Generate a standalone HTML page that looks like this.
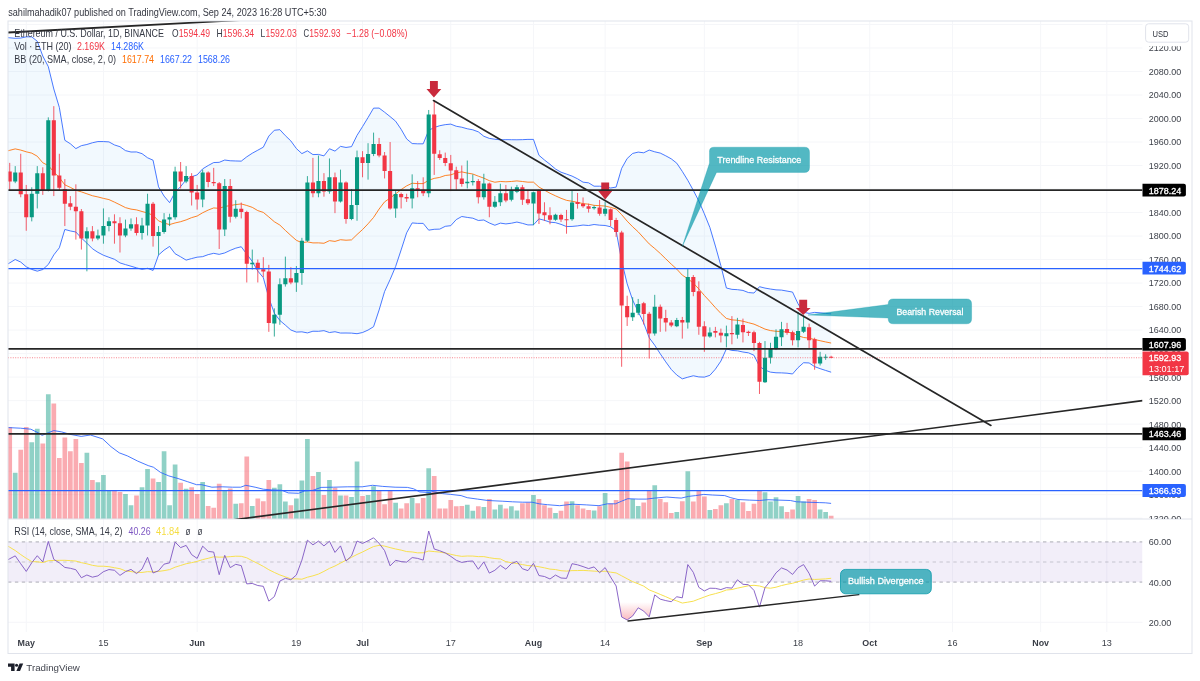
<!DOCTYPE html>
<html lang="en"><head><meta charset="utf-8"><title>ETHUSD chart</title>
<style>html,body{margin:0;padding:0;background:#fff}svg{display:block}</style></head>
<body>
<svg width="1200" height="681" viewBox="0 0 1200 681" font-family='"Liberation Sans", Arial, sans-serif'>
<defs>
<clipPath id="cm"><rect x="8.0" y="21.0" width="1134.5" height="498.0"/></clipPath>
<clipPath id="cr"><rect x="8.0" y="519.0" width="1134.5" height="113.0"/></clipPath>
<clipPath id="cax"><rect x="1142.5" y="46.2" width="49.5" height="472.8"/></clipPath>
<linearGradient id="os" gradientUnits="userSpaceOnUse" x1="0" y1="602" x2="0" y2="623"><stop offset="0" stop-color="#f23645" stop-opacity="0"/><stop offset="1" stop-color="#f23645" stop-opacity="0.4"/></linearGradient>
</defs>
<rect width="1200" height="681" fill="#fff"/>
<path d="M26.25 21.0V632.0M103.43 21.0V632.0M197.15 21.0V632.0M296.39 21.0V632.0M362.54 21.0V632.0M450.75 21.0V632.0M533.45 21.0V632.0M605.12 21.0V632.0M704.35 21.0V632.0M798.07 21.0V632.0M869.74 21.0V632.0M952.43 21.0V632.0M1040.64 21.0V632.0M1106.8 21.0V632.0M8.0 24.48H1142.5M8.0 47.99H1142.5M8.0 71.5H1142.5M8.0 95.01H1142.5M8.0 118.52H1142.5M8.0 142.02H1142.5M8.0 165.53H1142.5M8.0 189.04H1142.5M8.0 212.55H1142.5M8.0 236.06H1142.5M8.0 259.56H1142.5M8.0 283.07H1142.5M8.0 306.58H1142.5M8.0 330.09H1142.5M8.0 353.6H1142.5M8.0 377.1H1142.5M8.0 400.61H1142.5M8.0 424.12H1142.5M8.0 447.63H1142.5M8.0 471.14H1142.5M8.0 494.64H1142.5M8.0 518.15H1142.5M8.0 622.3H1142.5" stroke="#f5f6f9" stroke-width="1" fill="none"/>
<path d="M8.0 519.0H1192.0" stroke="#e0e3eb" stroke-width="1"/>
<g clip-path="url(#cm)">
<path d="M4.2 37.32L9.71 37.81L15.22 38.3L20.74 38.07L26.25 36.82L31.76 36.86L37.28 41.26L42.79 56.04L48.3 66.63L53.81 88.99L59.33 107.4L64.84 140.28L70.35 143.78L75.87 148.6L81.38 145.66L86.89 144.49L92.41 142.75L97.92 141.55L103.43 141.55L108.94 141.89L114.46 144.94L119.97 146.71L125.48 150.62L131 152.01L136.51 151.94L142.02 153.65L147.54 157.75L153.05 160.21L158.56 186.83L164.07 196.09L169.59 202.67L175.1 192.17L180.61 186.57L186.13 179.74L191.64 176.7L197.15 174.91L202.67 168.86L208.18 165.53L213.69 162.55L219.2 162.34L224.72 160.04L230.23 160.75L235.74 160.97L241.26 161.14L246.77 156.83L252.28 153.22L257.8 150.2L263.31 147.19L268.82 136.08L274.34 130.26L279.85 129.68L285.36 135.67L290.87 140.94L296.39 148.56L301.9 153.62L307.41 150.83L312.93 154.59L318.44 154.42L323.95 155.88L329.46 148.76L334.98 151.12L340.49 146.37L346 147.46L351.52 146.63L357.03 135.4L362.54 126.61L368.06 117.54L373.57 108.14L379.08 108.07L384.59 112.19L390.11 116.61L395.62 121.2L401.13 129.29L406.65 138.92L412.16 143.56L417.67 143.82L423.19 143.82L428.7 130.36L434.21 127.47L439.72 125.72L445.24 124.65L450.75 124.11L456.26 126.25L461.78 127.22L467.29 128.77L472.8 129.81L478.32 131.85L483.83 136.27L489.34 138.4L494.86 139.22L500.37 139.82L505.88 139.66L511.39 139.72L516.91 139.79L522.42 139.66L527.93 139.4L533.45 139.4L538.96 155.3L544.47 160L549.99 164.29L555.5 169.01L561.01 172.19L566.52 174.09L572.04 176.09L577.55 178.82L583.06 182.17L588.58 182.84L594.09 186.2L599.6 186.21L605.12 186.6L610.63 187.98L616.14 187.1L621.65 168.37L627.17 158.51L632.68 153.43L638.19 152.1L643.71 152.79L649.22 150.07L654.73 151.8L660.25 153.09L665.76 155.82L671.27 158.85L676.78 163.19L682.3 171.42L687.81 180.35L693.32 190.35L698.84 201.04L704.35 213.78L709.86 227.45L715.38 246.03L720.89 265.68L726.4 288.03L731.91 289.35L737.43 289.68L742.94 290.43L748.45 292.55L753.97 293.03L759.48 286.69L764.99 288.09L770.5 289.05L776.02 289.85L781.53 290.1L787.04 291.09L792.56 292.09L798.07 303.84L803.58 312.25L809.1 313.38L814.61 312.39L820.12 312.81L825.63 313.41L831.15 313.88L831.15 372.2L825.63 370.45L820.12 368.65L814.61 366.63L809.1 362.94L803.58 362.72L798.07 367.64L792.56 373.98L787.04 373.19L781.53 372.88L776.02 372.77L770.5 372.14L764.99 370.11L759.48 366.42L753.97 355.25L748.45 352.82L742.94 352.02L737.43 350.81L731.91 350.42L726.4 348.86L720.89 361.09L715.38 369.17L709.86 375.33L704.35 377.13L698.84 376.91L693.32 375.78L687.81 377.21L682.3 378.84L676.78 375.06L671.27 369.43L665.76 361.86L660.25 353.8L654.73 345.22L649.22 337.78L643.71 323.06L638.19 311.6L632.68 300.19L627.17 283.81L621.65 260.96L616.14 230.8L610.63 226.77L605.12 225.48L599.6 225.18L594.09 224.5L588.58 225.53L583.06 225.05L577.55 225.89L572.04 226.41L566.52 226.57L561.01 224.39L555.5 222.67L549.99 222.2L544.47 220.3L538.96 218.86L533.45 224.85L527.93 224.94L522.42 223.35L516.91 222.05L511.39 223.23L505.88 223.92L500.37 223.11L494.86 225.24L489.34 222.99L483.83 220L478.32 220.47L472.8 218.2L467.29 217.42L461.78 216.51L456.26 219.58L450.75 225.68L445.24 226.34L439.72 229.12L434.21 229.31L428.7 230.18L423.19 223.38L417.67 223.38L412.16 222.92L406.65 232.81L401.13 249.91L395.62 266.51L390.11 279.54L384.59 291.55L379.08 310.04L373.57 326.71L368.06 330.07L362.54 332.52L357.03 333.71L351.52 333.12L346 333L340.49 333.06L334.98 331.72L329.46 332.54L323.95 330.66L318.44 331.3L312.93 331.22L307.41 332.92L301.9 331.84L296.39 332.08L290.87 330L285.36 325.15L279.85 320.45L274.34 313.17L268.82 297.84L263.31 277.62L257.8 271.05L252.28 261.48L246.77 254.13L241.26 246.76L235.74 248.17L230.23 250.36L224.72 252.95L219.2 254.36L213.69 253.32L208.18 254.63L202.67 256.65L197.15 257.18L191.64 258.56L186.13 260.11L180.61 256.8L175.1 253.73L169.59 246.46L164.07 250.11L158.56 254.96L153.05 270.41L147.54 268.29L142.02 269.33L136.51 267.86L131 266.21L125.48 264.61L119.97 262.92L114.46 259.29L108.94 257.29L103.43 255.22L97.92 252.34L92.41 248.73L86.89 243.11L81.38 238.06L75.87 232.01L70.35 230.95L64.84 229.46L59.33 247.76L53.81 254.88L48.3 264.49L42.79 269.5L37.28 271.17L31.76 269.41L26.25 266.8L20.74 262.08L15.22 259.5L9.71 262.87L4.2 266.24Z" fill="#2196f3" fill-opacity="0.06"/>
<path d="M4.2 37.32L9.71 37.81L15.22 38.3L20.74 38.07L26.25 36.82L31.76 36.86L37.28 41.26L42.79 56.04L48.3 66.63L53.81 88.99L59.33 107.4L64.84 140.28L70.35 143.78L75.87 148.6L81.38 145.66L86.89 144.49L92.41 142.75L97.92 141.55L103.43 141.55L108.94 141.89L114.46 144.94L119.97 146.71L125.48 150.62L131 152.01L136.51 151.94L142.02 153.65L147.54 157.75L153.05 160.21L158.56 186.83L164.07 196.09L169.59 202.67L175.1 192.17L180.61 186.57L186.13 179.74L191.64 176.7L197.15 174.91L202.67 168.86L208.18 165.53L213.69 162.55L219.2 162.34L224.72 160.04L230.23 160.75L235.74 160.97L241.26 161.14L246.77 156.83L252.28 153.22L257.8 150.2L263.31 147.19L268.82 136.08L274.34 130.26L279.85 129.68L285.36 135.67L290.87 140.94L296.39 148.56L301.9 153.62L307.41 150.83L312.93 154.59L318.44 154.42L323.95 155.88L329.46 148.76L334.98 151.12L340.49 146.37L346 147.46L351.52 146.63L357.03 135.4L362.54 126.61L368.06 117.54L373.57 108.14L379.08 108.07L384.59 112.19L390.11 116.61L395.62 121.2L401.13 129.29L406.65 138.92L412.16 143.56L417.67 143.82L423.19 143.82L428.7 130.36L434.21 127.47L439.72 125.72L445.24 124.65L450.75 124.11L456.26 126.25L461.78 127.22L467.29 128.77L472.8 129.81L478.32 131.85L483.83 136.27L489.34 138.4L494.86 139.22L500.37 139.82L505.88 139.66L511.39 139.72L516.91 139.79L522.42 139.66L527.93 139.4L533.45 139.4L538.96 155.3L544.47 160L549.99 164.29L555.5 169.01L561.01 172.19L566.52 174.09L572.04 176.09L577.55 178.82L583.06 182.17L588.58 182.84L594.09 186.2L599.6 186.21L605.12 186.6L610.63 187.98L616.14 187.1L621.65 168.37L627.17 158.51L632.68 153.43L638.19 152.1L643.71 152.79L649.22 150.07L654.73 151.8L660.25 153.09L665.76 155.82L671.27 158.85L676.78 163.19L682.3 171.42L687.81 180.35L693.32 190.35L698.84 201.04L704.35 213.78L709.86 227.45L715.38 246.03L720.89 265.68L726.4 288.03L731.91 289.35L737.43 289.68L742.94 290.43L748.45 292.55L753.97 293.03L759.48 286.69L764.99 288.09L770.5 289.05L776.02 289.85L781.53 290.1L787.04 291.09L792.56 292.09L798.07 303.84L803.58 312.25L809.1 313.38L814.61 312.39L820.12 312.81L825.63 313.41L831.15 313.88" stroke="#2962ff" stroke-width="1" fill="none" stroke-linejoin="round" opacity="0.85"/>
<path d="M4.2 266.24L9.71 262.87L15.22 259.5L20.74 262.08L26.25 266.8L31.76 269.41L37.28 271.17L42.79 269.5L48.3 264.49L53.81 254.88L59.33 247.76L64.84 229.46L70.35 230.95L75.87 232.01L81.38 238.06L86.89 243.11L92.41 248.73L97.92 252.34L103.43 255.22L108.94 257.29L114.46 259.29L119.97 262.92L125.48 264.61L131 266.21L136.51 267.86L142.02 269.33L147.54 268.29L153.05 270.41L158.56 254.96L164.07 250.11L169.59 246.46L175.1 253.73L180.61 256.8L186.13 260.11L191.64 258.56L197.15 257.18L202.67 256.65L208.18 254.63L213.69 253.32L219.2 254.36L224.72 252.95L230.23 250.36L235.74 248.17L241.26 246.76L246.77 254.13L252.28 261.48L257.8 271.05L263.31 277.62L268.82 297.84L274.34 313.17L279.85 320.45L285.36 325.15L290.87 330L296.39 332.08L301.9 331.84L307.41 332.92L312.93 331.22L318.44 331.3L323.95 330.66L329.46 332.54L334.98 331.72L340.49 333.06L346 333L351.52 333.12L357.03 333.71L362.54 332.52L368.06 330.07L373.57 326.71L379.08 310.04L384.59 291.55L390.11 279.54L395.62 266.51L401.13 249.91L406.65 232.81L412.16 222.92L417.67 223.38L423.19 223.38L428.7 230.18L434.21 229.31L439.72 229.12L445.24 226.34L450.75 225.68L456.26 219.58L461.78 216.51L467.29 217.42L472.8 218.2L478.32 220.47L483.83 220L489.34 222.99L494.86 225.24L500.37 223.11L505.88 223.92L511.39 223.23L516.91 222.05L522.42 223.35L527.93 224.94L533.45 224.85L538.96 218.86L544.47 220.3L549.99 222.2L555.5 222.67L561.01 224.39L566.52 226.57L572.04 226.41L577.55 225.89L583.06 225.05L588.58 225.53L594.09 224.5L599.6 225.18L605.12 225.48L610.63 226.77L616.14 230.8L621.65 260.96L627.17 283.81L632.68 300.19L638.19 311.6L643.71 323.06L649.22 337.78L654.73 345.22L660.25 353.8L665.76 361.86L671.27 369.43L676.78 375.06L682.3 378.84L687.81 377.21L693.32 375.78L698.84 376.91L704.35 377.13L709.86 375.33L715.38 369.17L720.89 361.09L726.4 348.86L731.91 350.42L737.43 350.81L742.94 352.02L748.45 352.82L753.97 355.25L759.48 366.42L764.99 370.11L770.5 372.14L776.02 372.77L781.53 372.88L787.04 373.19L792.56 373.98L798.07 367.64L803.58 362.72L809.1 362.94L814.61 366.63L820.12 368.65L825.63 370.45L831.15 372.2" stroke="#2962ff" stroke-width="1" fill="none" stroke-linejoin="round" opacity="0.85"/>
<path d="M4.2 151.78L9.71 150.34L15.22 148.9L20.74 150.08L26.25 151.81L31.76 153.13L37.28 156.22L42.79 162.77L48.3 165.56L53.81 171.94L59.33 177.58L64.84 184.87L70.35 187.37L75.87 190.3L81.38 191.86L86.89 193.8L92.41 195.74L97.92 196.94L103.43 198.38L108.94 199.59L114.46 202.12L119.97 204.82L125.48 207.61L131 209.11L136.51 209.9L142.02 211.49L147.54 213.02L153.05 215.31L158.56 220.89L164.07 223.1L169.59 224.57L175.1 222.95L180.61 221.69L186.13 219.92L191.64 217.63L197.15 216.04L202.67 212.75L208.18 210.08L213.69 207.93L219.2 208.35L224.72 206.49L230.23 205.55L235.74 204.57L241.26 203.95L246.77 205.48L252.28 207.35L257.8 210.62L263.31 212.4L268.82 216.96L274.34 221.72L279.85 225.07L285.36 230.41L290.87 235.47L296.39 240.32L301.9 242.73L307.41 241.87L312.93 242.9L318.44 242.86L323.95 243.27L329.46 240.65L334.98 241.42L340.49 239.71L346 240.23L351.52 239.88L357.03 234.56L362.54 229.56L368.06 223.8L373.57 217.43L379.08 209.05L384.59 201.87L390.11 198.08L395.62 193.86L401.13 189.6L406.65 185.87L412.16 183.24L417.67 183.6L423.19 183.6L428.7 180.27L434.21 178.39L439.72 177.42L445.24 175.49L450.75 174.89L456.26 172.91L461.78 171.87L467.29 173.09L472.8 174L478.32 176.16L483.83 178.14L489.34 180.7L494.86 182.23L500.37 181.47L505.88 181.79L511.39 181.48L516.91 180.92L522.42 181.5L527.93 182.17L533.45 182.13L538.96 187.08L544.47 190.15L549.99 193.24L555.5 195.84L561.01 198.29L566.52 200.33L572.04 201.25L577.55 202.35L583.06 203.61L588.58 204.18L594.09 205.35L599.6 205.7L605.12 206.04L610.63 207.38L616.14 208.95L621.65 214.67L627.17 221.16L632.68 226.81L638.19 231.85L643.71 237.93L649.22 243.93L654.73 248.51L660.25 253.45L665.76 258.84L671.27 264.14L676.78 269.13L682.3 275.13L687.81 278.78L693.32 283.06L698.84 288.97L704.35 295.45L709.86 301.39L715.38 307.6L720.89 313.39L726.4 318.45L731.91 319.89L737.43 320.25L742.94 321.23L748.45 322.68L753.97 324.14L759.48 326.55L764.99 329.1L770.5 330.6L776.02 331.31L781.53 331.49L787.04 332.14L792.56 333.03L798.07 335.74L803.58 337.49L809.1 338.16L814.61 339.51L820.12 340.73L825.63 341.93L831.15 343.04" stroke="#ff6d00" stroke-width="1" fill="none" stroke-linejoin="round" opacity="0.85"/>
<path d="M12.87 472.8h4.7V518.6h-4.7zM29.41 442.2h4.7V518.6h-4.7zM34.93 428.8h4.7V518.6h-4.7zM45.95 394.3h4.7V518.6h-4.7zM84.54 452.8h4.7V518.6h-4.7zM95.57 482.2h4.7V518.6h-4.7zM101.08 475h4.7V518.6h-4.7zM106.59 490.9h4.7V518.6h-4.7zM123.13 494h4.7V518.6h-4.7zM128.65 505.3h4.7V518.6h-4.7zM139.67 487.2h4.7V518.6h-4.7zM145.19 468.9h4.7V518.6h-4.7zM156.21 482h4.7V518.6h-4.7zM161.72 451.2h4.7V518.6h-4.7zM167.24 505.3h4.7V518.6h-4.7zM172.75 464.6h4.7V518.6h-4.7zM183.78 488.8h4.7V518.6h-4.7zM200.32 482h4.7V518.6h-4.7zM222.37 489.9h4.7V518.6h-4.7zM233.39 503.8h4.7V518.6h-4.7zM249.93 505.9h4.7V518.6h-4.7zM271.99 487.8h4.7V518.6h-4.7zM277.5 484.3h4.7V518.6h-4.7zM283.01 501.6h4.7V518.6h-4.7zM294.04 498.5h4.7V518.6h-4.7zM299.55 480.6h4.7V518.6h-4.7zM305.06 438.9h4.7V518.6h-4.7zM316.09 472h4.7V518.6h-4.7zM327.11 480h4.7V518.6h-4.7zM338.14 495.4h4.7V518.6h-4.7zM349.17 497h4.7V518.6h-4.7zM354.68 461.5h4.7V518.6h-4.7zM365.71 495h4.7V518.6h-4.7zM371.22 486.2h4.7V518.6h-4.7zM393.27 502.8h4.7V518.6h-4.7zM409.81 498h4.7V518.6h-4.7zM426.35 468.3h4.7V518.6h-4.7zM464.94 504.7h4.7V518.6h-4.7zM470.45 510.8h4.7V518.6h-4.7zM481.48 506.9h4.7V518.6h-4.7zM492.5 509.4h4.7V518.6h-4.7zM498.02 504.7h4.7V518.6h-4.7zM509.04 506.3h4.7V518.6h-4.7zM514.56 510.4h4.7V518.6h-4.7zM531.1 495h4.7V518.6h-4.7zM553.15 512.9h4.7V518.6h-4.7zM569.69 501.2h4.7V518.6h-4.7zM591.74 510.4h4.7V518.6h-4.7zM602.76 492.9h4.7V518.6h-4.7zM630.33 499.1h4.7V518.6h-4.7zM635.84 505.9h4.7V518.6h-4.7zM652.38 485.3h4.7V518.6h-4.7zM674.43 512h4.7V518.6h-4.7zM685.46 471.3h4.7V518.6h-4.7zM707.51 510h4.7V518.6h-4.7zM724.05 503.2h4.7V518.6h-4.7zM735.08 500.1h4.7V518.6h-4.7zM762.64 492.3h4.7V518.6h-4.7zM768.15 501.6h4.7V518.6h-4.7zM773.67 497.3h4.7V518.6h-4.7zM779.18 506.3h4.7V518.6h-4.7zM795.72 496h4.7V518.6h-4.7zM801.23 501.6h4.7V518.6h-4.7zM817.77 509.4h4.7V518.6h-4.7zM823.28 512h4.7V518.6h-4.7z" fill="#089981" fill-opacity="0.45"/>
<path d="M7.36 427.1h4.7V518.6h-4.7zM18.39 449.8h4.7V518.6h-4.7zM23.9 427.1h4.7V518.6h-4.7zM40.44 443.6h4.7V518.6h-4.7zM51.46 403.5h4.7V518.6h-4.7zM56.98 458h4.7V518.6h-4.7zM62.49 437.4h4.7V518.6h-4.7zM68 451.2h4.7V518.6h-4.7zM73.52 438.9h4.7V518.6h-4.7zM79.03 463.1h4.7V518.6h-4.7zM90.06 480h4.7V518.6h-4.7zM112.11 490.9h4.7V518.6h-4.7zM117.62 491.9h4.7V518.6h-4.7zM134.16 495.4h4.7V518.6h-4.7zM150.7 478.5h4.7V518.6h-4.7zM178.26 482.7h4.7V518.6h-4.7zM189.29 487.2h4.7V518.6h-4.7zM194.8 494h4.7V518.6h-4.7zM205.83 505.9h4.7V518.6h-4.7zM211.34 507.7h4.7V518.6h-4.7zM216.85 483.7h4.7V518.6h-4.7zM227.88 488.4h4.7V518.6h-4.7zM238.91 503.2h4.7V518.6h-4.7zM244.42 456.5h4.7V518.6h-4.7zM255.45 498.5h4.7V518.6h-4.7zM260.96 501.2h4.7V518.6h-4.7zM266.47 480h4.7V518.6h-4.7zM288.52 505.3h4.7V518.6h-4.7zM310.58 476.1h4.7V518.6h-4.7zM321.6 495h4.7V518.6h-4.7zM332.63 487.8h4.7V518.6h-4.7zM343.65 495.4h4.7V518.6h-4.7zM360.19 496h4.7V518.6h-4.7zM376.73 490.9h4.7V518.6h-4.7zM382.24 504.2h4.7V518.6h-4.7zM387.76 490.9h4.7V518.6h-4.7zM398.78 508.4h4.7V518.6h-4.7zM404.3 503.2h4.7V518.6h-4.7zM415.32 503.2h4.7V518.6h-4.7zM420.84 498h4.7V518.6h-4.7zM431.86 476.1h4.7V518.6h-4.7zM437.37 508.4h4.7V518.6h-4.7zM442.89 508.4h4.7V518.6h-4.7zM448.4 500.1h4.7V518.6h-4.7zM453.91 506.3h4.7V518.6h-4.7zM459.43 505.9h4.7V518.6h-4.7zM475.97 506.3h4.7V518.6h-4.7zM486.99 499.1h4.7V518.6h-4.7zM503.53 508.4h4.7V518.6h-4.7zM520.07 503.2h4.7V518.6h-4.7zM525.58 502.6h4.7V518.6h-4.7zM536.61 499.1h4.7V518.6h-4.7zM542.12 505.3h4.7V518.6h-4.7zM547.63 507.7h4.7V518.6h-4.7zM558.66 510.8h4.7V518.6h-4.7zM564.17 501.6h4.7V518.6h-4.7zM575.2 505.3h4.7V518.6h-4.7zM580.71 508.4h4.7V518.6h-4.7zM586.23 510h4.7V518.6h-4.7zM597.25 506.3h4.7V518.6h-4.7zM608.28 503.6h4.7V518.6h-4.7zM613.79 500.1h4.7V518.6h-4.7zM619.3 452.8h4.7V518.6h-4.7zM624.82 461.5h4.7V518.6h-4.7zM641.36 502.6h4.7V518.6h-4.7zM646.87 490.3h4.7V518.6h-4.7zM657.89 499.1h4.7V518.6h-4.7zM663.41 502.2h4.7V518.6h-4.7zM668.92 512.9h4.7V518.6h-4.7zM679.95 501.2h4.7V518.6h-4.7zM690.97 501.6h4.7V518.6h-4.7zM696.49 490.9h4.7V518.6h-4.7zM702 496.6h4.7V518.6h-4.7zM713.02 509h4.7V518.6h-4.7zM718.54 505.3h4.7V518.6h-4.7zM729.56 499.1h4.7V518.6h-4.7zM740.59 502.2h4.7V518.6h-4.7zM746.1 511h4.7V518.6h-4.7zM751.62 503.8h4.7V518.6h-4.7zM757.13 490.9h4.7V518.6h-4.7zM784.69 511.9h4.7V518.6h-4.7zM790.21 509.6h4.7V518.6h-4.7zM806.75 499.1h4.7V518.6h-4.7zM812.26 500.1h4.7V518.6h-4.7zM828.8 515.8h4.7V518.6h-4.7z" fill="#f23645" fill-opacity="0.42"/>
<path d="M8.2 427.6L20.5 428.2L30.8 429.2L38 432.7L42.1 435.4L48.3 432.7L53.8 430.6L61.6 431.9L69.9 434.3L81.2 436.4L90.4 435L102.7 438.9L111 446.7L119.2 452.8L127.4 455.9L137.7 461.1L148.2 465.6L153.4 467.2L160.5 472.4L168.8 475.9L178 478.5L187.3 481.6L196.5 484.7L201.6 484.7L211.9 487.2L222.2 486.8L232.5 487.2L240.7 487.2L245.8 485.3L255.1 487.2L263.3 489.2L271.5 489.9L281.8 490.3L288.2 492.9L298.5 493.3L304.7 490.9L312.9 490.3L321.1 487.4L333.4 487.2L347.8 486.8L362.2 486.8L372.5 485.3L382.7 486.4L395.1 487.2L407.4 487.4L413.6 488.8L419.7 491.9L430 492.6L432.3 491.5L442.6 493.6L450.8 494.4L461.1 495.6L467.3 497.7L477.5 499.1L487.8 500.5L502.2 501.2L512.5 501.8L522.7 502.2L532 502.2L539.2 503.8L547.4 504.7L559.7 505.7L572.3 504.2L586.7 504.9L599 505.7L607.3 503.8L615.5 503.8L621.6 501.2L627.8 498.7L638.1 499.1L646.3 499.1L654.5 498.1L666.8 497L675.1 497.7L681.2 498.1L688.4 496.4L695.6 495.6L703.8 494.4L712.3 495L724.7 495.6L730.8 497.7L738 499.5L749.3 500.1L759.6 500.5L767.8 499.7L778.1 500.1L790.4 500.5L796.6 501.8L806.8 502.2L819.2 502.6L825.3 502.8L831.1 503.4" stroke="#2962ff" stroke-width="1" fill="none" stroke-linejoin="round" opacity="0.85"/>
<path d="M15.22 166.12V183.16M31.76 187.28V221.36M37.28 166.12V208.43M48.3 117.34V191.39M86.89 227.24V271.32M97.92 229.59V240.17M103.43 208.43V243.7M108.94 217.25V231.35M125.48 219.6V237.23M131 218.43V230.77M142.02 217.84V239.58M147.54 193.74V235.47M158.56 226.07V254.86M164.07 213.14V233.71M169.59 213.72V226.07M175.1 166.71V219.6M186.13 166.12V183.16M202.67 169.65V207.26M224.72 179.05V236.06M235.74 200.21V218.43M252.28 249.57V269.55M274.34 308.34V336.55M279.85 278.37V324.8M285.36 256.63V286.6M296.39 266.03V291.89M301.9 237.82V284.84M307.41 176.11V241.93M318.44 155.54V197.27M329.46 158.48V193.74M340.49 169.65V202.56M351.52 189.04V220.19M357.03 150.55V220.78M368.06 143.2V179.64M373.57 132.62V156.13M395.62 191.1V217.84M412.16 174.35V208.43M428.7 109.99V197.27M467.29 160.54V188.45M472.8 174.35V185.51M483.83 173.76V199.62M494.86 196.09V207.85M500.37 183.75V206.08M511.39 186.69V201.38M516.91 184.93V193.15M533.45 191.68V225.18M555.5 213.72V220.78M572.04 189.98V220.78M594.09 205.5V209.61M605.12 201.97V216.19M632.68 297.18V320.98M638.19 298.94V315.1M654.73 294.83V335.67M676.78 317.92V327.15M687.81 268.73V328.62M709.86 327.38V337.73M726.4 325.62V347.37M737.43 317.86V338.61M764.99 341.08V382.98M770.5 342.78V363.59M776.02 329.32V350.07M781.53 321.86V346.07M798.07 311.87V347.37M803.58 315.4V333.03M820.12 351.83V365.53M825.63 354.3V359.83" stroke="#089981" stroke-width="1" fill="none" opacity="0.8"/>
<path d="M13.17 172.58h4.1V181.4h-4.1zM29.71 193.74h4.1V217.25h-4.1zM35.23 173.17h4.1V193.74h-4.1zM46.25 120.28h4.1V190.22h-4.1zM84.84 231.35h4.1V238.41h-4.1zM95.87 235.47h4.1V238.41h-4.1zM101.38 226.07h4.1V235.47h-4.1zM106.89 221.36h4.1V226.07h-4.1zM123.43 228.42h4.1V235.47h-4.1zM128.95 224.3h4.1V228.42h-4.1zM139.97 225.48h4.1V233.12h-4.1zM145.49 203.73h4.1V225.48h-4.1zM156.51 231.94h4.1V236.06h-4.1zM162.02 219.6h4.1V231.94h-4.1zM167.54 217.25h4.1V219.6h-4.1zM173.05 171.41h4.1V217.25h-4.1zM184.08 176.11h4.1V181.4h-4.1zM200.62 172.58h4.1V199.62h-4.1zM222.67 186.1h4.1V229.59h-4.1zM233.69 208.73h4.1V216.66h-4.1zM250.23 262.8h4.1V264.27h-4.1zM272.29 314.81h4.1V323.62h-4.1zM277.8 284.25h4.1V314.81h-4.1zM283.31 278.37h4.1V284.25h-4.1zM294.34 273.08h4.1V282.48h-4.1zM299.85 240.76h4.1V273.08h-4.1zM305.36 182.58h4.1V240.76h-4.1zM316.39 181.11h4.1V193.15h-4.1zM327.41 177.29h4.1V191.39h-4.1zM338.44 182.58h4.1V201.38h-4.1zM349.47 204.91h4.1V219.01h-4.1zM354.98 157.3h4.1V204.91h-4.1zM366.01 154.07h4.1V162.89h-4.1zM371.52 144.08h4.1V154.07h-4.1zM393.57 194.04h4.1V208.43h-4.1zM410.11 188.16h4.1V198.44h-4.1zM426.65 114.52h4.1V193.15h-4.1zM465.24 181.81h4.1V183.34h-4.1zM470.75 181.05h4.1V182.34h-4.1zM481.78 183.57h4.1V197.27h-4.1zM492.81 201.79h4.1V206.79h-4.1zM498.32 193.15h4.1V202.32h-4.1zM509.34 191.04h4.1V199.79h-4.1zM514.86 187.28h4.1V191.68h-4.1zM531.4 192.33h4.1V203.44h-4.1zM553.45 214.78h4.1V219.78h-4.1zM569.99 202.38h4.1V219.37h-4.1zM592.04 206.91h4.1V208.2h-4.1zM603.07 208.67h4.1V213.72h-4.1zM630.63 312.75h4.1V317.16h-4.1zM636.14 303.94h4.1V312.75h-4.1zM652.68 306.87h4.1V333.44h-4.1zM674.73 319.92h4.1V326.15h-4.1zM685.76 276.9h4.1V322.45h-4.1zM707.81 332.44h4.1V336.55h-4.1zM724.35 333.14h4.1V336.14h-4.1zM735.38 324.39h4.1V334.79h-4.1zM762.94 357.83h4.1V382.22h-4.1zM768.46 348.54h4.1V357.83h-4.1zM773.97 336.79h4.1V348.54h-4.1zM779.48 329.32h4.1V337.32h-4.1zM796.02 331.09h4.1V340.31h-4.1zM801.53 326.8h4.1V331.85h-4.1zM818.07 356.83h4.1V363.59h-4.1zM823.59 356.83h4.1V357.83h-4.1z" fill="#089981"/>
<path d="M9.71 162.89V189.8M20.74 153.78V197.27M26.25 184.93V230.77M42.79 167.3V194.92M53.81 106.17V196.09M59.33 153.78V190.22M64.84 179.05V226.07M70.35 196.09V210.2M75.87 184.34V239.58M81.38 209.02V249.57M92.41 226.07V241.35M114.46 214.31V243.7M119.97 217.25V252.51M136.51 217.25V235.47M153.05 201.97V246.63M180.61 162.01V188.45M191.64 173.17V205.5M197.15 184.93V209.61M208.18 171.41V187.28M213.69 167.88V186.1M219.2 181.99V248.99M230.23 179.05V222.54M241.26 202.56V218.43M246.77 210.78V282.48M257.8 259.56V282.48M263.31 257.21V277.19M268.82 264.85V331.85M290.87 267.2V284.25M312.93 157.89V197.27M323.95 173.17V196.68M334.98 172.58V213.14M346 181.4V223.71M362.54 151.13V177.29M379.08 137.91V157.3M384.59 152.01V178.46M390.11 142.02V209.61M401.13 192.57V208.43M406.65 193.74V201.97M417.67 181.11V197.27M423.19 177.29V196.09M434.21 100.47V174.94M439.72 150.25V159.95M445.24 152.6V166.12M450.75 154.95V191.1M456.26 166.71V189.8M461.78 165.53V186.69M478.32 179.05V203.44M489.34 182.58V217.25M505.88 184.93V202.26M522.42 184.93V204.91M527.93 189.8V204.91M538.96 189.33V224.01M544.47 202.26V221.01M549.99 207.26V224.3M561.01 213.72V221.95M566.52 209.9V233.71M577.55 192.98V208.67M583.06 197.44V207.85M588.58 203.73V212.55M599.6 199.97V215.72M610.63 208.43V226.07M616.14 217.84V236.88M621.65 230.77V366.76M627.17 295.71V325.97M643.71 301.88V324.5M649.22 311.87V358.53M660.25 304.52V331.85M665.76 309.81V331.56M671.27 320.1V327.15M682.3 316.92V338.61M693.32 275.02V296.24M698.84 281.31V334.79M704.35 321.27V351.83M715.38 326.86V337.38M720.89 328.62V342.43M731.91 316.1V344.31M742.94 318.63V342.43M748.45 330.68V335.96M753.97 330.68V351.07M759.48 341.84V393.97M787.04 322.86V334.79M792.56 330.68V345.37M809.1 323.62V348.07M814.61 337.73V369.76M831.15 355.75V358.28" stroke="#f23645" stroke-width="1" fill="none" opacity="0.8"/>
<path d="M7.66 171.41h4.1V181.4h-4.1zM18.69 172.58h4.1V194.33h-4.1zM24.2 194.33h4.1V217.25h-4.1zM40.74 173.17h4.1V190.22h-4.1zM51.77 120.28h4.1V175.52h-4.1zM57.28 175.52h4.1V187.86h-4.1zM62.79 189.04h4.1V203.73h-4.1zM68.3 203.14h4.1V206.67h-4.1zM73.82 206.67h4.1V211.37h-4.1zM79.33 211.37h4.1V238.41h-4.1zM90.36 231.35h4.1V238.41h-4.1zM112.41 221.36h4.1V223.13h-4.1zM117.92 223.13h4.1V235.47h-4.1zM134.46 224.3h4.1V233.12h-4.1zM151 203.73h4.1V236.06h-4.1zM178.56 171.41h4.1V181.4h-4.1zM189.59 176.11h4.1V192.57h-4.1zM195.1 192.57h4.1V199.62h-4.1zM206.13 172.58h4.1V181.99h-4.1zM211.64 181.99h4.1V183.16h-4.1zM217.15 183.16h4.1V229.59h-4.1zM228.18 186.1h4.1V216.66h-4.1zM239.21 208.73h4.1V211.96h-4.1zM244.72 211.96h4.1V263.68h-4.1zM255.75 262.8h4.1V269.26h-4.1zM261.26 269.26h4.1V271.61h-4.1zM266.77 271.61h4.1V323.04h-4.1zM288.82 278.37h4.1V282.48h-4.1zM310.88 182.58h4.1V193.15h-4.1zM321.9 181.11h4.1V191.39h-4.1zM332.93 177.29h4.1V201.38h-4.1zM343.95 182.58h4.1V219.01h-4.1zM360.49 157.3h4.1V162.89h-4.1zM377.03 144.08h4.1V155.54h-4.1zM382.54 155.54h4.1V171.12h-4.1zM388.06 171.12h4.1V208.43h-4.1zM399.08 194.04h4.1V197.27h-4.1zM404.6 196.97h4.1V198.44h-4.1zM415.62 188.16h4.1V189.8h-4.1zM421.14 189.8h4.1V193.15h-4.1zM432.16 114.52h4.1V153.78h-4.1zM437.67 154.37h4.1V157.89h-4.1zM443.19 157.89h4.1V162.89h-4.1zM448.7 163.18h4.1V170.59h-4.1zM454.21 170.23h4.1V179.34h-4.1zM459.73 178.46h4.1V184.04h-4.1zM476.27 181.05h4.1V197.27h-4.1zM487.29 183.57h4.1V206.79h-4.1zM503.83 193.15h4.1V200.5h-4.1zM520.37 187.28h4.1V199.79h-4.1zM525.88 199.32h4.1V203.14h-4.1zM536.91 191.04h4.1V213.49h-4.1zM542.42 212.25h4.1V215.25h-4.1zM547.94 215.25h4.1V219.78h-4.1zM558.96 214.9h4.1V219.6h-4.1zM564.47 219.28h4.1V220.28h-4.1zM575.5 201.97h4.1V203.91h-4.1zM581.01 203.73h4.1V206.2h-4.1zM586.53 206.2h4.1V208.67h-4.1zM597.55 207.44h4.1V213.72h-4.1zM608.58 209.37h4.1V219.89h-4.1zM614.09 219.89h4.1V231.94h-4.1zM619.6 232.41h4.1V305.4h-4.1zM625.12 305.99h4.1V317.16h-4.1zM641.66 303.35h4.1V313.93h-4.1zM647.17 313.63h4.1V333.44h-4.1zM658.2 306.87h4.1V318.57h-4.1zM663.71 317.98h4.1V322.62h-4.1zM669.22 322.45h4.1V325.62h-4.1zM680.25 319.92h4.1V322.45h-4.1zM691.27 276.9h4.1V291.89h-4.1zM696.79 291.3h4.1V326.86h-4.1zM702.3 326.15h4.1V336.55h-4.1zM713.33 331.09h4.1V332.85h-4.1zM718.84 332.85h4.1V335.61h-4.1zM729.86 333.03h4.1V334.2h-4.1zM740.89 324.92h4.1V332.32h-4.1zM746.4 331.85h4.1V333.09h-4.1zM751.92 332.32h4.1V343.08h-4.1zM757.43 343.08h4.1V381.69h-4.1zM784.99 329.09h4.1V332.85h-4.1zM790.51 332.32h4.1V340.31h-4.1zM807.05 327.33h4.1V340.31h-4.1zM812.56 339.31h4.1V363.59h-4.1zM829.1 356.79h4.1V357.79h-4.1z" fill="#f23645"/>
<path d="M8.0 357.75H1142.5" stroke="#f23645" stroke-width="1" stroke-dasharray="1 1.4" opacity="0.6"/>
<path d="M429.95 80.9H437.85V89H441.3L433.9 97.5L426.5 89H429.95Z" fill="#c92a3c"/>
<path d="M601.25 182.5H609.15V190.6H612.6L605.2 199.4L597.8 190.6H601.25Z" fill="#c92a3c"/>
<path d="M799.25 299.8H807.15V307.9H810.6L803.2 315L795.8 307.9H799.25Z" fill="#c92a3c"/>
<path d="M8.0 190.07H1142.5" stroke="#262626" stroke-width="1.8"/>
<path d="M8.0 268.6H1142.5" stroke="#2962ff" stroke-width="1.3"/>
<path d="M8.0 348.92H1142.5" stroke="#262626" stroke-width="1.6"/>
<path d="M8.0 433.84H1142.5" stroke="#262626" stroke-width="1.6"/>
<path d="M8.0 490.57H1142.5" stroke="#2962ff" stroke-width="1.3"/>
<path d="M433.5 100.6L990.9 425.4" stroke="#262626" stroke-width="1.7" stroke-linecap="round"/>
<path d="M200 524.26L1142.5 400.6" stroke="#262626" stroke-width="1.6"/>
<path d="M0 32.9L240 20.2" stroke="#262626" stroke-width="1.8"/>
<g><path d="M714 147.2H804.5Q809.5 147.2 809.5 152.2V167.4Q809.5 172.4 804.5 172.4H716.5L682.3 246.4L709.5 163V152.2Q709 147.2 714 147.2Z" fill="#0097a7" fill-opacity="0.68" stroke="#0097a7" stroke-opacity="0.35" stroke-width="0.8"/><text x="759.25" y="163.3" font-size="9.9" fill="#fff" stroke="#fff" stroke-width="0.3" text-anchor="middle" textLength="84" lengthAdjust="spacingAndGlyphs">Trendline Resistance</text></g>
<g><path d="M893.2 298.9H966.6Q971.6 298.9 971.6 303.9V318.8Q971.6 323.8 966.6 323.8H893.2Q888.2 323.8 888.2 318.8V318L808 315L888.2 304.5V303.9Q888.2 298.9 893.2 298.9Z" fill="#0097a7" fill-opacity="0.68" stroke="#0097a7" stroke-opacity="0.35" stroke-width="0.8"/><text x="929.9" y="314.85" font-size="9.9" fill="#fff" stroke="#fff" stroke-width="0.3" text-anchor="middle" textLength="67" lengthAdjust="spacingAndGlyphs">Bearish Reversal</text></g>
</g>
<g clip-path="url(#cr)">
<rect x="8.0" y="541.9" width="1134.5" height="40.2" fill="#7e57c2" fill-opacity="0.1"/>
<path d="M8.0 541.9H1142.5" stroke="#787b86" stroke-width="1" stroke-dasharray="3.4 3.5" opacity="0.6"/>
<path d="M8.0 562H1142.5" stroke="#787b86" stroke-width="1" stroke-dasharray="3.4 3.5" opacity="0.36"/>
<path d="M8.0 582.1H1142.5" stroke="#787b86" stroke-width="1" stroke-dasharray="3.4 3.5" opacity="0.6"/>
<path d="M619.02 602.2L621.65 617.01L627.17 619.98L632.68 615.91L638.19 607.81L643.71 611.1L649.22 616.87L652.9 602.2Z" fill="url(#os)"/>
<path d="M757.85 602.2L759.48 607.16L760.88 602.2Z" fill="url(#os)"/>
<path d="M4.2 543.86L9.71 547.19L15.22 550.52L20.74 554.59L26.25 558.29L31.76 561.59L37.28 561.8L42.79 562.53L48.3 560.72L53.81 560.47L59.33 560.34L64.84 560.3L70.35 560.63L75.87 561.07L81.38 562.65L86.89 563.8L92.41 565.33L97.92 566.19L103.43 566.21L108.94 566.7L114.46 567.74L119.97 568.7L125.48 570.86L131 571.58L136.51 572.34L142.02 572.46L147.54 571.67L153.05 571.91L158.56 571.41L164.07 570.63L169.59 569.61L175.1 567.2L180.61 565.47L186.13 563.75L191.64 562.63L197.15 561.42L202.67 559.6L208.18 558.32L213.69 556.78L219.2 557.18L224.72 557.04L230.23 556.66L235.74 556.2L241.26 556.31L246.77 557.8L252.28 560.76L257.8 563.47L263.31 566.39L268.82 569.71L274.34 572.44L279.85 574.93L285.36 576.86L290.87 578.83L296.39 578.85L301.9 579.19L307.41 577.23L312.93 575.84L318.44 574.09L323.95 571.38L329.46 568.36L334.98 566L340.49 563.11L346 560.25L351.52 557.34L357.03 554.48L362.54 551.99L368.06 549.2L373.57 546.55L379.08 545.35L384.59 546.1L390.11 547.61L395.62 548.98L401.13 550.1L406.65 551.59L412.16 551.96L417.67 552.85L423.19 552.79L428.7 551.01L434.21 551.58L439.72 552.1L445.24 552.97L450.75 554.29L456.26 555.5L461.78 556.35L467.29 556.02L472.8 556.07L478.32 556.62L483.83 556.6L489.34 557.71L494.86 558.55L500.37 558.93L505.88 561.66L511.39 562.7L516.91 563.46L522.42 564.59L527.93 565.6L533.45 565.83L538.96 566.76L544.47 567.84L549.99 569.13L555.5 569.55L561.01 570.7L566.52 571.08L572.04 570.61L577.55 570.57L583.06 570.38L588.58 570.74L594.09 571.13L599.6 571.42L605.12 571.2L610.63 572.18L616.14 572.93L621.65 575.82L627.17 578.75L632.68 581.67L638.19 583.79L643.71 586.13L649.22 589.93L654.73 592.08L660.25 594.4L665.76 596.69L671.27 599.17L676.78 600.89L682.3 603.05L687.81 602.16L693.32 601.18L698.84 599.07L704.35 597L709.86 595.02L715.38 593.63L720.89 592.09L726.4 590L731.91 589.52L737.43 588.14L742.94 586.97L748.45 585.76L753.97 585.3L759.48 585.97L764.99 587.62L770.5 588.23L776.02 587.19L781.53 585.55L787.04 584.25L792.56 583.25L798.07 581.69L803.58 580.04L809.1 578.99L814.61 579.44L820.12 579.19L825.63 578.9L831.15 578.25" stroke="#f7e04f" stroke-width="1" fill="none" stroke-linejoin="round"/>
<path d="M4.2 561.72L9.71 558.78L15.22 555.85L20.74 563.76L26.25 571.43L31.76 562.74L37.28 555.73L42.79 561.94L48.3 541.39L53.81 559.35L59.33 562.9L64.84 567.43L70.35 568.29L75.87 569.73L81.38 577.74L86.89 574.99L92.41 577.17L97.92 575.89L103.43 571.7L108.94 569.56L114.46 570.28L119.97 575.38L125.48 571.63L131 569.41L136.51 573.56L142.02 569.08L147.54 557.34L153.05 572.98L158.56 570.75L164.07 564.13L169.59 562.87L175.1 542.08L180.61 547.61L186.13 545.41L191.64 554.63L197.15 558.42L202.67 546.16L208.18 551.42L213.69 552.09L219.2 574.7L224.72 555.32L230.23 567.61L235.74 564.32L241.26 565.64L246.77 583.86L252.28 583.44L257.8 585.53L263.31 586.32L268.82 601.14L274.34 596.61L279.85 581.09L285.36 578.31L290.87 579.76L296.39 574.96L301.9 560.12L307.41 540.17L312.93 544.83L318.44 541.11L323.95 545.9L329.46 541.25L334.98 552.4L340.49 545.88L346 561.06L351.52 555.93L357.03 541.05L362.54 543.42L368.06 540.79L373.57 537.8L379.08 543.35L384.59 550.64L390.11 565.89L395.62 560.29L401.13 561.6L406.65 562.11L412.16 557.59L417.67 558.4L423.19 560.12L428.7 531.04L434.21 549.03L439.72 550.75L445.24 552.93L450.75 556.37L456.26 560.29L461.78 562.43L467.29 561.36L472.8 560.97L478.32 569.26L483.83 561.82L489.34 573.1L494.86 570.27L500.37 565.38L505.88 569.22L511.39 563.61L516.91 561.39L522.42 568.72L527.93 570.63L533.45 563.39L538.96 575.55L544.47 576.5L549.99 579.01L555.5 575.07L561.01 578.01L566.52 578.39L572.04 563.69L577.55 564.82L583.06 566.6L588.58 568.59L594.09 566.91L599.6 572.76L605.12 567.58L610.63 577.1L616.14 585.97L621.65 617.01L627.17 619.98L632.68 615.91L638.19 607.81L643.71 611.1L649.22 616.87L654.73 594.9L660.25 599.15L665.76 600.6L671.27 601.71L676.78 596.75L682.3 597.84L687.81 564.58L693.32 572.37L698.84 587.39L704.35 590.95L709.86 588.21L715.38 588.37L720.89 589.58L726.4 587.61L731.91 588.14L737.43 579.82L742.94 584.29L748.45 584.73L753.97 590.39L759.48 607.16L764.99 587.64L770.5 580.93L776.02 572.85L781.53 567.93L787.04 570.01L792.56 574.43L798.07 567.68L803.58 564.6L809.1 573.38L814.61 586.09L820.12 580.77L825.63 580.77L831.15 581.32" stroke="#7e57c2" stroke-width="1" opacity="0.9" fill="none" stroke-linejoin="round"/>
<path d="M628 621L858.8 594.6" stroke="#262626" stroke-width="1.4" stroke-linecap="round"/>
<rect x="840.5" y="569.4" width="90.8" height="24.4" rx="5" fill="#0097a7" fill-opacity="0.68" stroke="#0097a7" stroke-opacity="0.75" stroke-width="1"/>
<text x="885.8" y="584.4" font-size="9.9" fill="#fff" stroke="#fff" stroke-width="0.3" text-anchor="middle" textLength="75.6" lengthAdjust="spacingAndGlyphs">Bullish Divergence</text>
</g>
<rect x="8.0" y="21.0" width="1184.0" height="632.5" fill="none" stroke="#e0e3eb" stroke-width="1"/>
<g clip-path="url(#cax)">
<text x="1148.8" y="51.39" font-size="9.3" fill="#131722" fill-opacity="0.85" textLength="32.4" lengthAdjust="spacingAndGlyphs">2120.00</text>
<text x="1148.8" y="74.9" font-size="9.3" fill="#131722" fill-opacity="0.85" textLength="32.4" lengthAdjust="spacingAndGlyphs">2080.00</text>
<text x="1148.8" y="98.41" font-size="9.3" fill="#131722" fill-opacity="0.85" textLength="32.4" lengthAdjust="spacingAndGlyphs">2040.00</text>
<text x="1148.8" y="121.92" font-size="9.3" fill="#131722" fill-opacity="0.85" textLength="32.4" lengthAdjust="spacingAndGlyphs">2000.00</text>
<text x="1148.8" y="145.42" font-size="9.3" fill="#131722" fill-opacity="0.85" textLength="32.4" lengthAdjust="spacingAndGlyphs">1960.00</text>
<text x="1148.8" y="168.93" font-size="9.3" fill="#131722" fill-opacity="0.85" textLength="32.4" lengthAdjust="spacingAndGlyphs">1920.00</text>
<text x="1148.8" y="192.44" font-size="9.3" fill="#131722" fill-opacity="0.85" textLength="32.4" lengthAdjust="spacingAndGlyphs">1880.00</text>
<text x="1148.8" y="215.95" font-size="9.3" fill="#131722" fill-opacity="0.85" textLength="32.4" lengthAdjust="spacingAndGlyphs">1840.00</text>
<text x="1148.8" y="239.46" font-size="9.3" fill="#131722" fill-opacity="0.85" textLength="32.4" lengthAdjust="spacingAndGlyphs">1800.00</text>
<text x="1148.8" y="262.96" font-size="9.3" fill="#131722" fill-opacity="0.85" textLength="32.4" lengthAdjust="spacingAndGlyphs">1760.00</text>
<text x="1148.8" y="286.47" font-size="9.3" fill="#131722" fill-opacity="0.85" textLength="32.4" lengthAdjust="spacingAndGlyphs">1720.00</text>
<text x="1148.8" y="309.98" font-size="9.3" fill="#131722" fill-opacity="0.85" textLength="32.4" lengthAdjust="spacingAndGlyphs">1680.00</text>
<text x="1148.8" y="333.49" font-size="9.3" fill="#131722" fill-opacity="0.85" textLength="32.4" lengthAdjust="spacingAndGlyphs">1640.00</text>
<text x="1148.8" y="357" font-size="9.3" fill="#131722" fill-opacity="0.85" textLength="32.4" lengthAdjust="spacingAndGlyphs">1600.00</text>
<text x="1148.8" y="380.5" font-size="9.3" fill="#131722" fill-opacity="0.85" textLength="32.4" lengthAdjust="spacingAndGlyphs">1560.00</text>
<text x="1148.8" y="404.01" font-size="9.3" fill="#131722" fill-opacity="0.85" textLength="32.4" lengthAdjust="spacingAndGlyphs">1520.00</text>
<text x="1148.8" y="427.52" font-size="9.3" fill="#131722" fill-opacity="0.85" textLength="32.4" lengthAdjust="spacingAndGlyphs">1480.00</text>
<text x="1148.8" y="451.03" font-size="9.3" fill="#131722" fill-opacity="0.85" textLength="32.4" lengthAdjust="spacingAndGlyphs">1440.00</text>
<text x="1148.8" y="474.54" font-size="9.3" fill="#131722" fill-opacity="0.85" textLength="32.4" lengthAdjust="spacingAndGlyphs">1400.00</text>
<text x="1148.8" y="498.04" font-size="9.3" fill="#131722" fill-opacity="0.85" textLength="32.4" lengthAdjust="spacingAndGlyphs">1360.00</text>
<text x="1148.8" y="521.55" font-size="9.3" fill="#131722" fill-opacity="0.85" textLength="32.4" lengthAdjust="spacingAndGlyphs">1320.00</text>
</g>
<text x="1148.8" y="545.3" font-size="9.3" fill="#131722" fill-opacity="0.85" textLength="22.6" lengthAdjust="spacingAndGlyphs">60.00</text>
<text x="1148.8" y="585.5" font-size="9.3" fill="#131722" fill-opacity="0.85" textLength="22.6" lengthAdjust="spacingAndGlyphs">40.00</text>
<text x="1148.8" y="625.7" font-size="9.3" fill="#131722" fill-opacity="0.85" textLength="22.6" lengthAdjust="spacingAndGlyphs">20.00</text>
<rect x="1145.6" y="23.8" width="43.1" height="18.4" rx="3" fill="#fff" stroke="#e0e3eb" stroke-width="1"/>
<text x="1152.5" y="37.2" font-size="9.6" fill="#131722" fill-opacity="0.9" textLength="16" lengthAdjust="spacingAndGlyphs">USD</text>
<path d="M1142.5 183.8H1183.9a2 2 0 0 1 2 2V194.6a2 2 0 0 1 -2 2H1142.5Z" fill="#000"/><text x="1148.8" y="193.7" font-size="9.5" fill="#fff" stroke="#fff" stroke-width="0.3" textLength="32.4" lengthAdjust="spacingAndGlyphs">1878.24</text>
<path d="M1142.5 261.7H1183.9a2 2 0 0 1 2 2V272.5a2 2 0 0 1 -2 2H1142.5Z" fill="#2962ff"/><text x="1148.8" y="271.6" font-size="9.5" fill="#fff" stroke="#fff" stroke-width="0.3" textLength="32.4" lengthAdjust="spacingAndGlyphs">1744.62</text>
<path d="M1142.5 337.9H1183.9a2 2 0 0 1 2 2V348.7a2 2 0 0 1 -2 2H1142.5Z" fill="#000"/><text x="1148.8" y="347.8" font-size="9.5" fill="#fff" stroke="#fff" stroke-width="0.3" textLength="32.4" lengthAdjust="spacingAndGlyphs">1607.96</text>
<path d="M1142.5 427.4H1183.9a2 2 0 0 1 2 2V438.2a2 2 0 0 1 -2 2H1142.5Z" fill="#000"/><text x="1148.8" y="437.3" font-size="9.5" fill="#fff" stroke="#fff" stroke-width="0.3" textLength="32.4" lengthAdjust="spacingAndGlyphs">1463.46</text>
<path d="M1142.5 484.1H1183.9a2 2 0 0 1 2 2V494.9a2 2 0 0 1 -2 2H1142.5Z" fill="#2962ff"/><text x="1148.8" y="494" font-size="9.5" fill="#fff" stroke="#fff" stroke-width="0.3" textLength="32.4" lengthAdjust="spacingAndGlyphs">1366.93</text>
<path d="M1142.5 351.5H1186.7a2 2 0 0 1 2 2V373.2a2 2 0 0 1 -2 2H1142.5Z" fill="#f23645"/>
<text x="1148.8" y="360.9" font-size="9.5" fill="#fff" stroke="#fff" stroke-width="0.3" textLength="32.4" lengthAdjust="spacingAndGlyphs">1592.93</text>
<text x="1148.8" y="372.3" font-size="9.5" fill="#fff" textLength="35.6" lengthAdjust="spacingAndGlyphs">13:01:17</text>
<text x="26.25" y="646" font-size="8.9" fill="#131722" fill-opacity="0.85" text-anchor="middle" font-weight="bold">May</text>
<text x="103.43" y="646" font-size="9.1" fill="#131722" fill-opacity="0.85" text-anchor="middle">15</text>
<text x="197.15" y="646" font-size="8.9" fill="#131722" fill-opacity="0.85" text-anchor="middle" font-weight="bold">Jun</text>
<text x="296.39" y="646" font-size="9.1" fill="#131722" fill-opacity="0.85" text-anchor="middle">19</text>
<text x="362.54" y="646" font-size="8.9" fill="#131722" fill-opacity="0.85" text-anchor="middle" font-weight="bold">Jul</text>
<text x="450.75" y="646" font-size="9.1" fill="#131722" fill-opacity="0.85" text-anchor="middle">17</text>
<text x="533.45" y="646" font-size="8.9" fill="#131722" fill-opacity="0.85" text-anchor="middle" font-weight="bold">Aug</text>
<text x="605.12" y="646" font-size="9.1" fill="#131722" fill-opacity="0.85" text-anchor="middle">14</text>
<text x="704.35" y="646" font-size="8.9" fill="#131722" fill-opacity="0.85" text-anchor="middle" font-weight="bold">Sep</text>
<text x="798.07" y="646" font-size="9.1" fill="#131722" fill-opacity="0.85" text-anchor="middle">18</text>
<text x="869.74" y="646" font-size="8.9" fill="#131722" fill-opacity="0.85" text-anchor="middle" font-weight="bold">Oct</text>
<text x="952.43" y="646" font-size="9.1" fill="#131722" fill-opacity="0.85" text-anchor="middle">16</text>
<text x="1040.64" y="646" font-size="8.9" fill="#131722" fill-opacity="0.85" text-anchor="middle" font-weight="bold">Nov</text>
<text x="1106.8" y="646" font-size="9.1" fill="#131722" fill-opacity="0.85" text-anchor="middle">13</text>
<text x="8.2" y="15.6" font-size="10" fill="#131722" fill-opacity="0.88" textLength="318.5" lengthAdjust="spacingAndGlyphs">sahilmahadik07 published on TradingView.com, Sep 24, 2023 16:28 UTC+5:30</text>
<text y="36.7" font-size="10.2"><tspan x="14.3" fill="#363a45" textLength="149.7" lengthAdjust="spacingAndGlyphs">Ethereum / U.S. Dollar, 1D, BINANCE</tspan><tspan x="172" fill="#363a45" textLength="6.6" lengthAdjust="spacingAndGlyphs">O</tspan><tspan x="178.8" fill="#f23645" textLength="31.2" lengthAdjust="spacingAndGlyphs">1594.49</tspan><tspan x="216.5" fill="#363a45" textLength="6.2" lengthAdjust="spacingAndGlyphs">H</tspan><tspan x="222.8" fill="#f23645" textLength="31.2" lengthAdjust="spacingAndGlyphs">1596.34</tspan><tspan x="260.6" fill="#363a45" textLength="4.8" lengthAdjust="spacingAndGlyphs">L</tspan><tspan x="265.5" fill="#f23645" textLength="31.2" lengthAdjust="spacingAndGlyphs">1592.03</tspan><tspan x="303.5" fill="#363a45" textLength="5.6" lengthAdjust="spacingAndGlyphs">C</tspan><tspan x="309.3" fill="#f23645" textLength="31.2" lengthAdjust="spacingAndGlyphs">1592.93</tspan><tspan x="346.5" fill="#f23645" textLength="61" lengthAdjust="spacingAndGlyphs">−1.28 (−0.08%)</tspan></text>
<text y="49.6" font-size="10.2"><tspan x="14.3" fill="#363a45" textLength="57.2" lengthAdjust="spacingAndGlyphs">Vol · ETH (20)</tspan><tspan x="77" fill="#f23645" textLength="28" lengthAdjust="spacingAndGlyphs">2.169K</tspan><tspan x="111" fill="#2962ff" textLength="33" lengthAdjust="spacingAndGlyphs">14.286K</tspan></text>
<text y="62.6" font-size="10.2"><tspan x="14.3" fill="#363a45" textLength="101.7" lengthAdjust="spacingAndGlyphs">BB (20, SMA, close, 2, 0)</tspan><tspan x="122" fill="#ff6d00" textLength="32" lengthAdjust="spacingAndGlyphs">1617.74</tspan><tspan x="160" fill="#2962ff" textLength="32" lengthAdjust="spacingAndGlyphs">1667.22</tspan><tspan x="198" fill="#2962ff" textLength="32" lengthAdjust="spacingAndGlyphs">1568.26</tspan></text>
<text y="535.3" font-size="10.2"><tspan x="14.35" fill="#363a45" textLength="108.2" lengthAdjust="spacingAndGlyphs">RSI (14, close, SMA, 14, 2)</tspan><tspan x="128.6" fill="#7e57c2" textLength="22" lengthAdjust="spacingAndGlyphs">40.26</tspan><tspan x="156" fill="#f5dd42" textLength="23.4" lengthAdjust="spacingAndGlyphs">41.84</tspan><tspan x="185.5" fill="#363a45" textLength="5" lengthAdjust="spacingAndGlyphs">ø</tspan><tspan x="197.5" fill="#363a45" textLength="5" lengthAdjust="spacingAndGlyphs">ø</tspan></text>
<g fill="#1c1f2b"><path d="M8 663.5h6.6v7.5h-3.5v-4.2H8z"/><circle cx="16.6" cy="665.2" r="1.55"/><path d="M19.6 663.5h3.6l-3.2 7.5h-3.6z"/></g>
<text x="26.3" y="671" font-size="9.7" fill="#2a2e39" fill-opacity="0.9" textLength="53.6" lengthAdjust="spacingAndGlyphs">TradingView</text>
</svg>
</body></html>
